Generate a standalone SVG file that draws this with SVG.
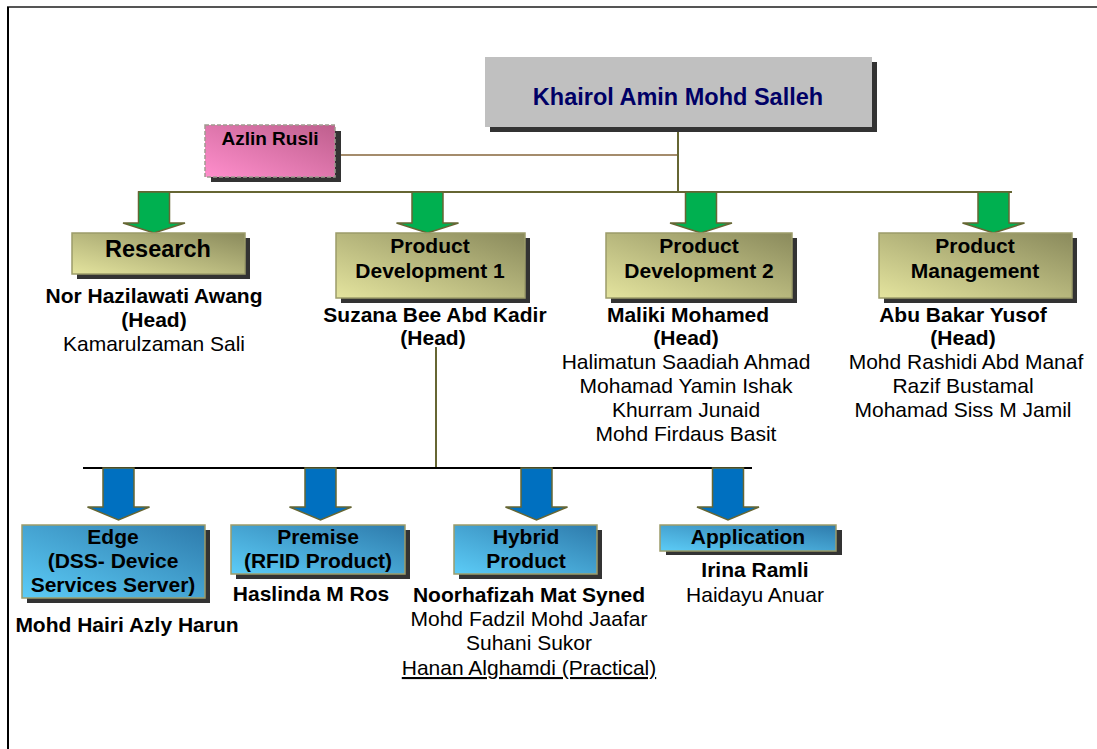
<svg xmlns="http://www.w3.org/2000/svg" width="1097" height="749" viewBox="0 0 1097 749">
<style>
.t{font-family:"Liberation Sans",Arial,sans-serif;text-anchor:middle;fill:#000}
.b{font-weight:bold}
.f21{font-size:21px}
.sh{fill:#333333}
.olive{fill:url(#gOlive);stroke:#9C9C6A;stroke-width:1.5}
.blue{fill:url(#gBlue);stroke:#9C9C6A;stroke-width:1.5}
.ga{fill:#00B050;stroke:#666633;stroke-width:1.5}
.ba{fill:#0070C0;stroke:#666633;stroke-width:1.5}
</style>
<defs>
<linearGradient id="gOlive" x1="0" y1="1" x2="1" y2="0">
<stop offset="0" stop-color="#E4E49E"/><stop offset="1" stop-color="#8A8A5C"/>
</linearGradient>
<linearGradient id="gBlue" x1="0" y1="1" x2="1" y2="0">
<stop offset="0" stop-color="#5CCCF7"/><stop offset="1" stop-color="#2E7BAC"/>
</linearGradient>
<linearGradient id="gPink" x1="0" y1="1" x2="1" y2="0">
<stop offset="0" stop-color="#FF8ECC"/><stop offset="1" stop-color="#BE5F8D"/>
</linearGradient>
<path id="arrG" d="M-15.5,0 L15.5,0 L15.5,31 L31,31 L0,41 L-31,31 L-15.5,31 Z"/>
<path id="arrB" d="M-15.5,0 L15.5,0 L15.5,39 L31,39 L0,52 L-31,39 L-15.5,39 Z"/>
</defs>
<rect width="1097" height="749" fill="#fff"/>
<line x1="7" y1="7" x2="1097" y2="7" stroke="#555" stroke-width="2"/>
<line x1="8" y1="7" x2="8" y2="749" stroke="#000" stroke-width="2"/>

<g id="connectors">
<line x1="341" y1="155" x2="678" y2="155" stroke="#A48C6C" stroke-width="2"/>
<line x1="678" y1="127" x2="678" y2="192" stroke="#666633" stroke-width="2"/>
<line x1="138" y1="192" x2="1012" y2="192" stroke="#666633" stroke-width="2"/>
<line x1="436" y1="347" x2="436" y2="468" stroke="#666633" stroke-width="2"/>
<line x1="83" y1="468" x2="752" y2="468" stroke="#000" stroke-width="2"/>
<use href="#arrG" class="ga" x="154" y="192"/>
<use href="#arrG" class="ga" x="427.5" y="192"/>
<use href="#arrG" class="ga" x="701" y="192"/>
<use href="#arrG" class="ga" x="993.5" y="192"/>
<use href="#arrB" class="ba" x="118.5" y="468"/>
<use href="#arrB" class="ba" x="320.5" y="468"/>
<use href="#arrB" class="ba" x="536.5" y="468"/>
<use href="#arrB" class="ba" x="728" y="468"/>
</g>

<g id="ceo">
<rect x="490" y="62" width="387" height="70" class="sh"/>
<rect x="485" y="57" width="387" height="70" fill="#C0C0C0"/>
<text x="678" y="105" class="t b" font-size="23.5" style="fill:#000066">Khairol Amin Mohd Salleh</text>
</g>

<g id="azlin">
<rect x="211" y="131" width="130" height="51" class="sh"/>
<rect x="205" y="125" width="130" height="52" fill="url(#gPink)" stroke="#A09A90" stroke-width="1.5" stroke-dasharray="4,2"/>
<text x="270" y="145" class="t b" font-size="19">Azlin Rusli</text>
</g>

<g id="research">
<rect x="77" y="238" width="173" height="41" class="sh"/>
<rect x="72" y="233" width="173" height="41" class="olive"/>
<text x="158" y="257" class="t b" font-size="23.5">Research</text>
<text x="154" y="303" class="t b f21">Nor Hazilawati Awang</text>
<text x="154" y="327" class="t b f21">(Head)</text>
<text x="154" y="351" class="t f21">Kamarulzaman Sali</text>
</g>

<g id="pd1">
<rect x="341" y="238" width="189" height="65" class="sh"/>
<rect x="336" y="233" width="189" height="65" class="olive"/>
<text x="430" y="253" class="t b f21">Product</text>
<text x="430" y="278" class="t b f21">Development 1</text>
<text x="435" y="322" class="t b f21">Suzana Bee Abd Kadir</text>
<text x="433" y="345" class="t b f21">(Head)</text>
</g>

<g id="pd2">
<rect x="611" y="238" width="186" height="65" class="sh"/>
<rect x="606" y="233" width="186" height="65" class="olive"/>
<text x="699" y="253" class="t b f21">Product</text>
<text x="699" y="278" class="t b f21">Development 2</text>
<text x="688" y="322" class="t b f21">Maliki Mohamed</text>
<text x="686" y="345" class="t b f21">(Head)</text>
<text x="686" y="369" class="t f21">Halimatun Saadiah Ahmad</text>
<text x="686" y="393" class="t f21">Mohamad Yamin Ishak</text>
<text x="686" y="417" class="t f21">Khurram Junaid</text>
<text x="686" y="441" class="t f21">Mohd Firdaus Basit</text>
</g>

<g id="pm">
<rect x="884" y="238" width="193" height="65" class="sh"/>
<rect x="879" y="233" width="193" height="65" class="olive"/>
<text x="975" y="253" class="t b f21">Product</text>
<text x="975" y="278" class="t b f21">Management</text>
<text x="963" y="322" class="t b f21">Abu Bakar Yusof</text>
<text x="963" y="345" class="t b f21">(Head)</text>
<text x="966" y="369" class="t f21">Mohd Rashidi Abd Manaf</text>
<text x="963" y="393" class="t f21">Razif Bustamal</text>
<text x="963" y="417" class="t f21">Mohamad Siss M Jamil</text>
</g>

<g id="edge">
<rect x="27" y="530" width="183" height="73" class="sh"/>
<rect x="22" y="525" width="183" height="73" class="blue"/>
<text x="113" y="544" class="t b f21">Edge</text>
<text x="113" y="568" class="t b f21">(DSS- Device</text>
<text x="113" y="592" class="t b f21">Services Server)</text>
<text x="127" y="632" class="t b f21">Mohd Hairi Azly Harun</text>
</g>

<g id="premise">
<rect x="236" y="530" width="174" height="49" class="sh"/>
<rect x="231" y="525" width="174" height="49" class="blue"/>
<text x="318" y="544" class="t b f21">Premise</text>
<text x="318" y="568" class="t b f21">(RFID Product)</text>
<text x="311" y="601" class="t b f21">Haslinda M Ros</text>
</g>

<g id="hybrid">
<rect x="459" y="530" width="143" height="49" class="sh"/>
<rect x="454" y="525" width="143" height="49" class="blue"/>
<text x="526" y="544" class="t b f21">Hybrid</text>
<text x="526" y="568" class="t b f21">Product</text>
<text x="529" y="602" class="t b f21">Noorhafizah Mat Syned</text>
<text x="529" y="626" class="t f21">Mohd Fadzil Mohd Jaafar</text>
<text x="529" y="650" class="t f21">Suhani Sukor</text>
<text x="529" y="675" class="t f21" text-decoration="underline">Hanan Alghamdi (Practical)</text>
</g>

<g id="application">
<rect x="666" y="530" width="176" height="25" class="sh"/>
<rect x="660" y="525" width="176" height="26" class="blue"/>
<text x="748" y="544" class="t b f21">Application</text>
<text x="755" y="577" class="t b f21">Irina Ramli</text>
<text x="755" y="602" class="t f21">Haidayu Anuar</text>
</g>
</svg>
